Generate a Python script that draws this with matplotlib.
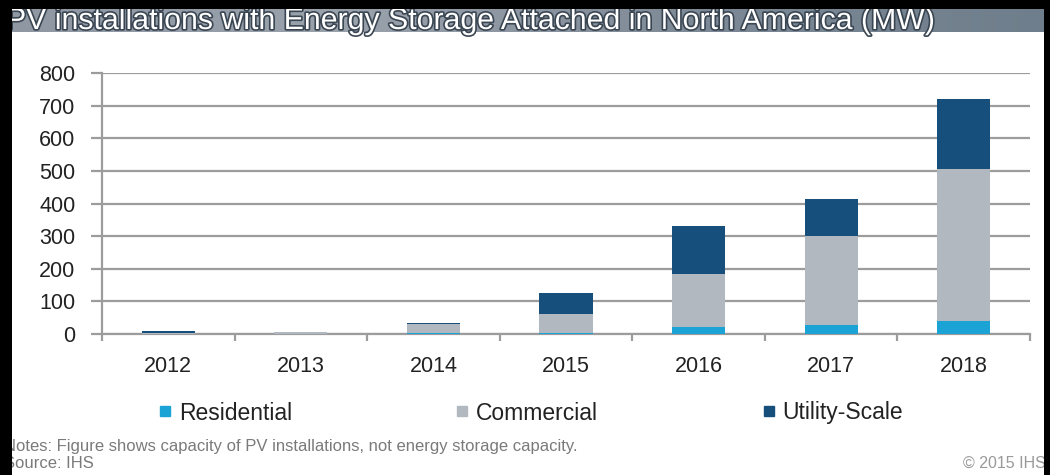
import numpy as np
import matplotlib
matplotlib.use("Agg")
import matplotlib.pyplot as plt
from matplotlib.patches import Rectangle
from matplotlib.lines import Line2D
from matplotlib.colors import LinearSegmentedColormap
import matplotlib.patheffects as pe

years = ["2012", "2013", "2014", "2015", "2016", "2017", "2018"]
residential = [0, 1, 2, 3, 20, 28, 40]
commercial = [2, 4, 28, 58, 165, 272, 465]
utility = [8, 2, 3, 64, 145, 115, 215]
series_names = ["Residential", "Commercial", "Utility-Scale"]
series_colors = ["#1ba3d6", "#b1b8bf", "#174f7c"]
y_ticks = [0, 100, 200, 300, 400, 500, 600, 700, 800]

title = "PV installations with Energy Storage Attached in North America (MW)"
notes = "Notes: Figure shows capacity of PV installations, not energy storage capacity."
source = "Source: IHS"
copyright_txt = "\u00a9 2015 IHS"

W, H = 1050, 475
fig = plt.figure(figsize=(W / 100, H / 100), dpi=100)
fig.patch.set_facecolor("white")


def fx(px):
    return px / W


def fy(py):
    return 1 - py / H


sans = ["Liberation Sans", "DejaVu Sans"]

# title band with a soft horizontal gradient
band = fig.add_axes([fx(0), fy(32), 1, (32 - 9) / H])
band.set_axis_off()
cmap = LinearSegmentedColormap.from_list("band", ["#8e97a2", "#9aa2ac", "#7d8996", "#6f7e8c"])
band.imshow(np.linspace(0, 1, 256)[None, :], aspect="auto", cmap=cmap,
            extent=[0, 1, 0, 1])
band.set_xlim(0, 1)
band.set_ylim(0, 1)
fig.text(fx(6), fy(29), title, family=sans, fontsize=21.8, color="white",
         va="baseline", ha="left",
         path_effects=[pe.withStroke(linewidth=2.4, foreground="#3b4653")])

# main chart
ax = fig.add_axes([fx(102), fy(334), fx(1030) - fx(102), (334 - 73) / H])
x = np.arange(len(years))
bw = 0.4
res = np.array(residential)
com = np.array(commercial)
uti = np.array(utility)
ax.bar(x, res, bw, color=series_colors[0], zorder=3)
ax.bar(x, com, bw, bottom=res, color=series_colors[1], zorder=3)
ax.bar(x, uti, bw, bottom=res + com, color=series_colors[2], zorder=3)

ax.set_xlim(-0.5, len(years) - 0.5)
ax.set_ylim(0, 800)
ax.set_yticks(y_ticks)
ax.set_yticklabels([str(v) for v in y_ticks])
ax.set_xticks(x)
ax.set_xticklabels(years)
ax.set_xticks(np.arange(-0.5, len(years)), minor=True)
ax.grid(axis="y", color="#9c9c9c", linewidth=1.6, zorder=1)
ax.set_axisbelow(True)
for s in ["top", "right"]:
    ax.spines[s].set_visible(False)
for s in ["left", "bottom"]:
    ax.spines[s].set_color("#9c9c9c")
    ax.spines[s].set_linewidth(1.6)
ax.tick_params(axis="y", length=8, width=1.6, color="#9c9c9c", pad=11,
               labelsize=15.5, labelcolor="#222222")
ax.tick_params(axis="x", which="major", length=0, pad=16,
               labelsize=15.5, labelcolor="#222222")
ax.tick_params(axis="x", which="minor", length=5, width=1.6, color="#9c9c9c")
for lab in ax.get_xticklabels() + ax.get_yticklabels():
    lab.set_family(sans)

# legend
handles = [Line2D([], [], marker="s", linestyle="none", markersize=6.5,
                  markerfacecolor=c, markeredgecolor=c) for c in series_colors]
leg = fig.legend(handles, series_names, loc="center left",
                 bbox_to_anchor=(fx(150), fy(413)), ncol=3, frameon=False,
                 prop={"family": sans, "size": 16.5}, handlelength=0.5,
                 handletextpad=0.35, columnspacing=7.2, borderaxespad=0)
for t in leg.get_texts():
    t.set_color("#222222")

# footnotes
fig.text(fx(4), fy(447), notes, family=sans, fontsize=12, color="#7a7a7a",
         va="center", ha="left")
fig.text(fx(4), fy(463), source, family=sans, fontsize=12, color="#7a7a7a",
         va="center", ha="left")
fig.text(fx(1046), fy(463), copyright_txt, family=sans, fontsize=11.5,
         color="#9a9a9a", va="center", ha="right")

# dark frame around the slide
for (x0, y0, w, h) in [(0, 0, 12, H), (0, 0, W, 9), (1044, 0, 6, H)]:
    fig.patches.append(Rectangle((fx(x0), fy(y0 + h)), w / W, h / H,
                                 transform=fig.transFigure, facecolor="black",
                                 edgecolor="none", zorder=10))

fig.savefig("out.png", dpi=100)
